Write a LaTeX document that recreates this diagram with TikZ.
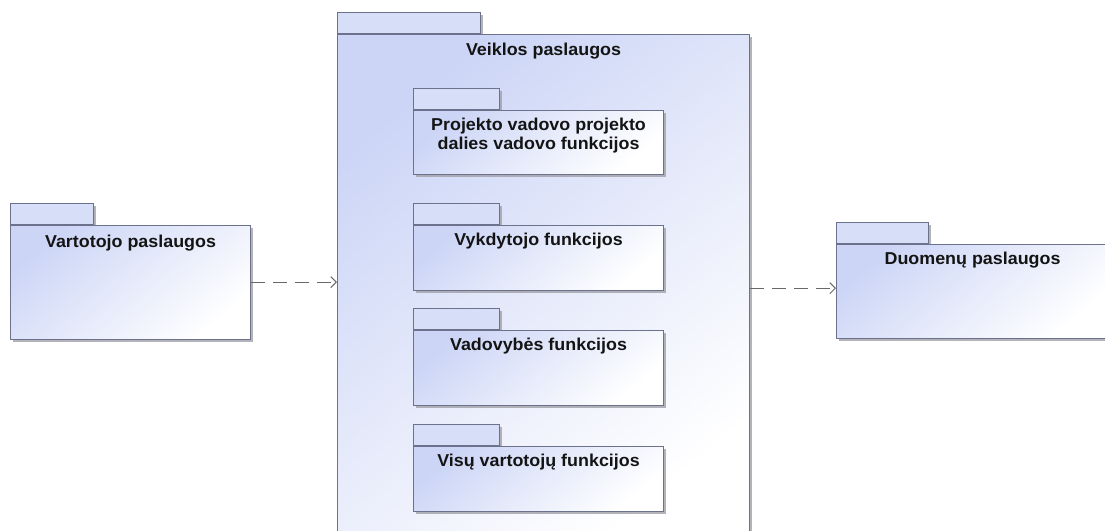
\documentclass[tikz,border=0pt]{standalone}
\usepackage{fontspec}
\setmainfont{Liberation Sans}[FakeStretch=1.04]
\usetikzlibrary{arrows.meta,shadows}

\definecolor{pkgline}{RGB}{108,114,140}
\definecolor{pkgblue}{RGB}{204,213,246}
\definecolor{pkgtabfill}{RGB}{214,222,248}
\definecolor{depline}{RGB}{105,105,105}
\definecolor{shadowgray}{RGB}{160,160,168}

\tikzset{
  pkgshadow/.style={drop shadow={shadow xshift=2.5pt, shadow yshift=-2.5pt,
      fill=shadowgray, opacity=0.8}},
  pkgtab/.style={draw=pkgline, line width=1.1pt, fill=pkgtabfill, pkgshadow,
      rectangle, inner sep=0pt, anchor=north west, minimum height=20.5pt},
  pkgbody/.style={draw=pkgline, line width=1.1pt, pkgshadow, rectangle,
      top color=pkgblue, bottom color=white, shading angle=40,
      inner sep=0pt, anchor=north west},
  pkglabel/.style={font=\fontsize{17.2}{19}\selectfont\bfseries, inner sep=0pt,
      align=center, text=black!92},
  dep/.style={draw=depline, line width=1pt, dash pattern=on 14pt off 8pt,
      -{Straight Barb[length=5.5pt,width=11pt,line width=1pt]}}
}

\begin{document}
\begin{tikzpicture}[x=1pt,y=-1pt]
  \useasboundingbox (0,0) rectangle (1105,530);
  \clip (0,0) rectangle (1105,530);

  % Vartotojo paslaugos
  \node[pkgtab, minimum width=83pt] (varttab) at (10,203) {};
  \node[pkgbody, minimum width=240pt, minimum height=114pt] (vart) at (varttab.south west) {};
  \node[pkglabel, below=10pt] (vartlabel) at (vart.north) {Vartotojo paslaugos};

  % Veiklos paslaugos
  \node[pkgtab, minimum width=143pt] (veiklatab) at (337,12) {};
  \node[pkgbody, minimum width=412pt, minimum height=510pt] (veikla) at (veiklatab.south west) {};
  \node[pkglabel, below=9pt] (veiklalabel) at (veikla.north) {Veiklos paslaugos};

  % Projekto vadovo projekto dalies vadovo funkcijos
  \node[pkgtab, minimum width=86pt] (projtab) at (413,88) {};
  \node[pkgbody, minimum width=250pt, minimum height=64pt] (proj) at (projtab.south west) {};
  \node[pkglabel, below=8pt] (projlabel) at (proj.north) {Projekto vadovo projekto\\dalies vadovo funkcijos};

  % Vykdytojo funkcijos
  \node[pkgtab, minimum width=86pt] (vyktab) at (413,203) {};
  \node[pkgbody, minimum width=250pt, minimum height=65pt] (vyk) at (vyktab.south west) {};
  \node[pkglabel, below=8pt] (vyklabel) at (vyk.north) {Vykdytojo funkcijos};

  % Vadovybės funkcijos
  \node[pkgtab, minimum width=86pt] (vadtab) at (413,308) {};
  \node[pkgbody, minimum width=250pt, minimum height=75pt] (vad) at (vadtab.south west) {};
  \node[pkglabel, below=8pt] (vadlabel) at (vad.north) {Vadovybės funkcijos};

  % Visų vartotojų funkcijos
  \node[pkgtab, minimum width=86pt] (vistab) at (413,424) {};
  \node[pkgbody, minimum width=250pt, minimum height=65pt] (vis) at (vistab.south west) {};
  \node[pkglabel, below=8pt] (vislabel) at (vis.north) {Visų vartotojų funkcijos};

  % Duomenų paslaugos
  \node[pkgtab, minimum width=92pt] (duomtab) at (836,222) {};
  \node[pkgbody, minimum width=272pt, minimum height=94pt] (duom) at (duomtab.south west) {};
  \node[pkglabel, below=8pt] (duomlabel) at (duom.north) {Duomenų paslaugos};

  % dependencies
  \draw[dep] (vart.east) -- (vart.east -| veikla.west);
  \draw[dep] ([yshift=3pt]veikla.east |- duom.west) -- ([yshift=3pt]duom.west);
\end{tikzpicture}
\end{document}
